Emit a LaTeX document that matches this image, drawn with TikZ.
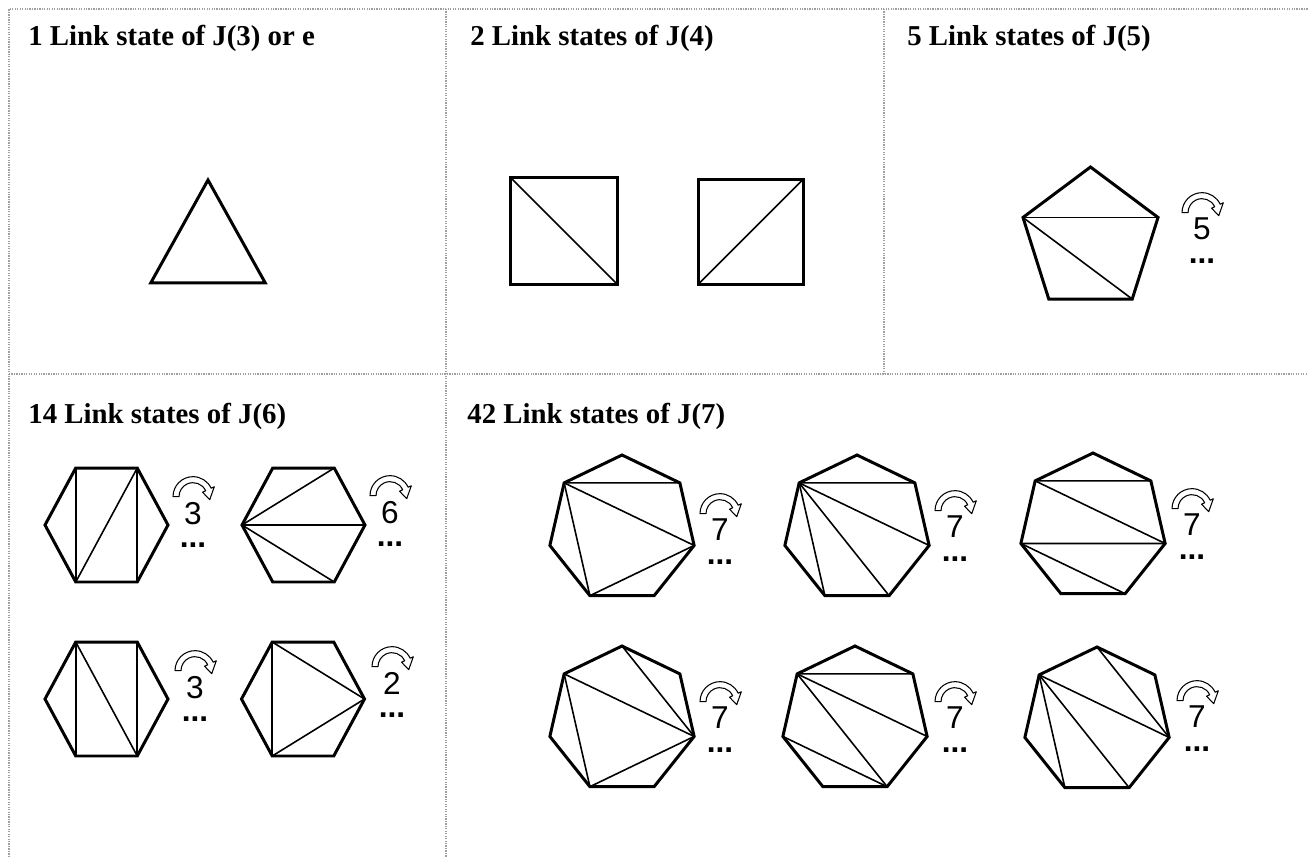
\documentclass[tikz,border=0pt]{standalone}
\usepackage{fontspec}
\setmainfont{Liberation Serif}
\newfontfamily\numfont{Liberation Sans}
\tikzset{
  frm/.style={gray!75, line width=0.7pt, dash pattern=on 0.7pt off 0.7pt},
  rim/.style={line width=1.7pt, line join=miter},
  chord/.style={line width=0.9pt},
  ttl/.style={anchor=base west, inner sep=0pt, font=\fontsize{16.4}{19}\selectfont\bfseries}}

\begin{document}
\begin{tikzpicture}[
  num/.style={font=\numfont\fontsize{18}{20.5}\selectfont, inner sep=0pt, align=center, anchor=north},
  ring/.style={line width=0.6pt, fill=white, line join=round}]
\useasboundingbox (0,0) rectangle (26.16,-17.14);
\draw[frm] (0.18,-17.14) -- (0.18,-0.18) -- (26.16,-0.18);
\draw[frm] (0.18,-7.48) -- (26.16,-7.48);
\draw[frm] (8.92,-0.18) -- (8.92,-17.14);
\draw[frm] (17.68,-0.18) -- (17.68,-7.48);
\node[ttl] (t1) at (0.56,-0.9) {1 Link state of J(3) or e};
\node[ttl] (t2) at (9.40,-0.9) {2 Link states of J(4)};
\node[ttl] (t3) at (18.14,-0.9) {5 Link states of J(5)};
\node[ttl] (t4) at (0.56,-8.46) {14 Link states of J(6)};
\node[ttl] (t5) at (9.34,-8.46) {42 Link states of J(7)};
\newcommand{\poly}[7]{
  \pgfmathtruncatemacro\last{#4-1}
  \foreach \k [evaluate=\k as \a using #7-\k*360/#4] in {0,...,\last}
    \coordinate (#1-\k) at ([shift={(#2,#3)}] \a:#5cm and #6cm);
  \draw[rim] (#1-0) \foreach \k in {1,...,\last} {-- (#1-\k)} -- cycle;}
\newcommand{\chords}[2]{\foreach \a/\b in {#2} \draw[chord] (#1-\a) -- (#1-\b);}
\newcommand{\turn}[4]{
  \node[num] (#1) at (#2,#3+0.227) {#4\\[-7pt]{\bfseries ...}};
  \coordinate (#1-c) at ([yshift=0.1cm]#1.north);
  \draw[ring, shift={(#1-c)}] (180:0.40) arc[start angle=180, end angle=25, radius=0.40]
    -- (25:0.47) -- (-10:0.34) -- (25:0.21) -- (25:0.28) arc[start angle=25, end angle=180, radius=0.28] -- cycle;}
\poly{tri}{4.16}{-4.97}{3}{1.32}{1.37}{90}
\poly{sqa}{11.28}{-4.62}{4}{1.5}{1.5}{45}
\poly{sqb}{15.01}{-4.64}{4}{1.485}{1.485}{45}
\poly{pen}{21.81}{-4.80}{5}{1.42}{1.46}{90}
\chords{sqa}{3/1} \chords{sqb}{2/0} \chords{pen}{4/1,4/2}
\turn{rp}{24.04}{-4.58}{5}
\poly{hxa}{2.13}{-10.50}{6}{1.23}{1.316}{0}
\poly{hxb}{6.07}{-10.50}{6}{1.23}{1.316}{0}
\poly{hxc}{2.13}{-13.98}{6}{1.23}{1.316}{0}
\poly{hxd}{6.06}{-13.98}{6}{1.23}{1.316}{0}
\chords{hxa}{4/2,5/1,2/5} \chords{hxb}{3/5,3/0,3/1}
\chords{hxc}{4/2,5/1,4/1} \chords{hxd}{4/2,4/0,2/0}
\turn{ra}{3.86}{-10.26}{3} \turn{rb}{7.80}{-10.24}{6}
\turn{rc}{3.90}{-13.74}{3} \turn{rd}{7.84}{-13.66}{2}
\poly{hpa}{12.44}{-10.58}{7}{1.48}{1.48}{90}
\poly{hpb}{17.14}{-10.58}{7}{1.48}{1.48}{90}
\poly{hpc}{21.86}{-10.54}{7}{1.48}{1.48}{90}
\poly{hpd}{12.44}{-14.40}{7}{1.48}{1.48}{90}
\poly{hpe}{17.10}{-14.40}{7}{1.48}{1.48}{90}
\poly{hpf}{21.94}{-14.42}{7}{1.48}{1.48}{90}
\chords{hpa}{6/1,6/2,6/4,4/2} \chords{hpb}{6/1,6/2,6/3,6/4} \chords{hpc}{6/1,6/2,5/2,5/3}
\chords{hpd}{0/2,6/2,6/4,4/2} \chords{hpe}{6/1,6/2,6/3,5/3} \chords{hpf}{0/2,6/2,6/3,6/4}
\turn{re}{14.40}{-10.60}{7} \turn{rf}{19.10}{-10.54}{7} \turn{rg}{23.84}{-10.50}{7}
\turn{rh}{14.40}{-14.36}{7} \turn{ri}{19.10}{-14.36}{7} \turn{rj}{23.94}{-14.34}{7}
\end{tikzpicture}
\end{document}
